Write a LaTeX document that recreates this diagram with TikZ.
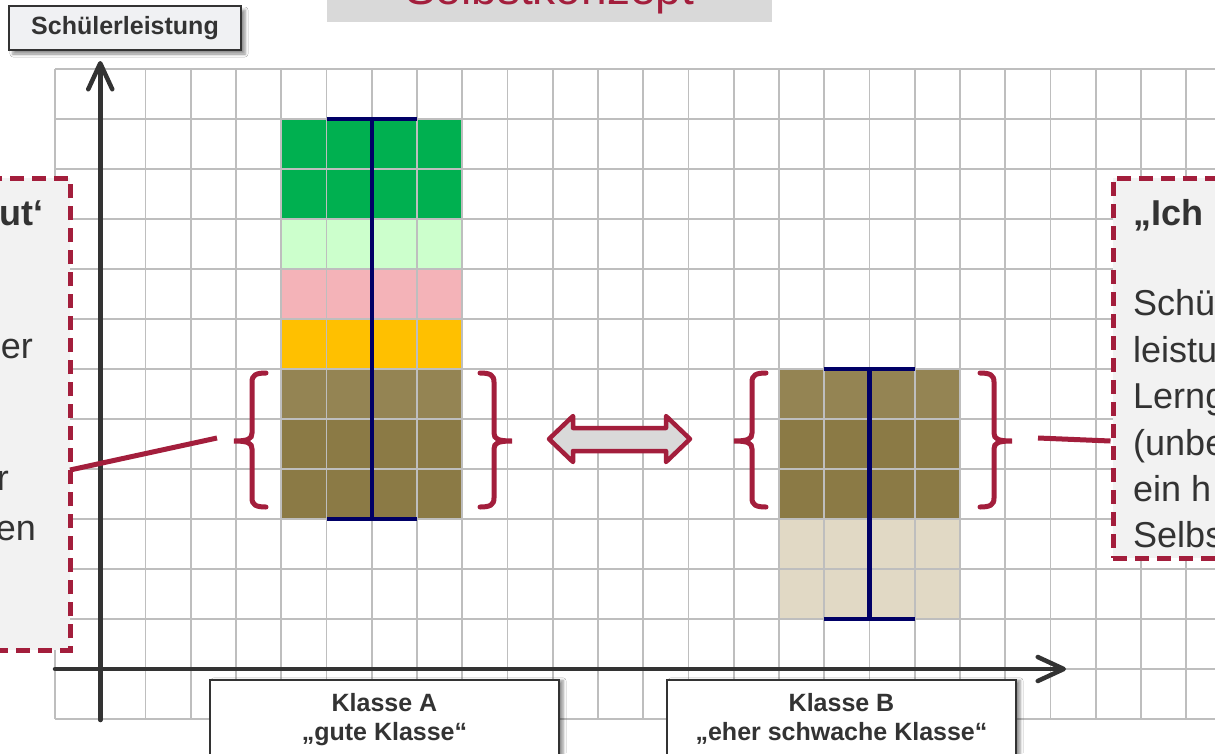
\documentclass[tikz,border=0pt]{standalone}
\usepackage{fontspec}
\setmainfont{Liberation Sans}
\usetikzlibrary{arrows.meta,shadows.blur}

\definecolor{gridc}{HTML}{BEBEBE}
\definecolor{axisc}{HTML}{333333}
\definecolor{txt}{HTML}{333333}
\definecolor{wine}{HTML}{A31E3C}
\definecolor{navy}{HTML}{000066}
\definecolor{gdark}{HTML}{00B050}
\definecolor{glight}{HTML}{CCFFCC}
\definecolor{pinkc}{HTML}{F4B3B8}
\definecolor{ambr}{HTML}{FFC000}
\definecolor{olivel}{HTML}{948453}
\definecolor{olived}{HTML}{8B7A45}
\definecolor{beige}{HTML}{E1D9C5}
\definecolor{panel}{HTML}{F2F2F2}
\definecolor{labelbg}{HTML}{F0F1F3}
\definecolor{titlebg}{HTML}{D9D9D9}

\tikzset{
  gridline/.style={draw=gridc, line width=1.6pt},
  navyl/.style={draw=navy, line width=4.2pt},
  axisl/.style={draw=axisc, line width=4.5pt, line cap=round,
    -{Straight Barb[length=26pt,width=24pt,line cap=round,line join=round]}},
  bracel/.style={draw=wine, line width=5pt, line cap=round},
  conn/.style={draw=wine, line width=5pt},
  dashbox/.style={draw=wine, line width=5pt, fill=panel,
    dash pattern=on 14pt off 8pt, inner sep=0pt},
  bodytxt/.style={inner sep=0pt, text=txt, font=\fontsize{36}{44}\selectfont},
  headtxt/.style={bodytxt, font=\bfseries\fontsize{36}{44}\selectfont},
  classbox/.style={draw=axisc, line width=1.5pt, fill=white, inner sep=0pt,
    blur shadow={shadow xshift=4pt, shadow yshift=-1pt, shadow blur radius=3pt, shadow opacity=45}},
  classtxt/.style={inner sep=0pt, anchor=base, text=txt, font=\bfseries\fontsize{25}{30}\selectfont},
  brace/.pic={
    \draw[bracel] (14,0) .. controls (4,0) and (0,2) .. (0,9) -- (0,60)
      .. controls (0,66) and (-4,68) .. (-18,68)
      .. controls (-4,68) and (0,70) .. (0,76) -- (0,125)
      .. controls (0,132) and (4,134) .. (14,134);
    \coordinate (-tip) at (-18,68);
  }
}

\begin{document}
\begin{tikzpicture}[x=1pt,y=-1pt]
\useasboundingbox (0,0) rectangle (1215,753);
\fill[white] (0,0) rectangle (1215,753);

% bars of the two classes
\foreach \yy/\cc in {119/gdark,169/gdark,219/glight,269/pinkc,319/ambr,369/olivel,419/olived,469/olived}
  \fill[\cc] (281.25,\yy) rectangle (462.25,\yy+50);
\foreach \yy/\cc in {369/olivel,419/olived,469/olived,519/beige,569/beige}
  \fill[\cc] (779,\yy) rectangle (960,\yy+50);

% squared paper
\foreach \k in {0,...,25}
  \draw[gridline] (55+\k*45.25,69) -- (55+\k*45.25,719);
\foreach \k in {0,...,13}
  \draw[gridline] (55,69+\k*50) -- (1215,69+\k*50);

% ranges
\draw[navyl] (371.75,119) -- (371.75,519);
\draw[navyl] (326.5,119) -- (417,119);
\draw[navyl] (326.5,519) -- (417,519);
\draw[navyl] (869.5,369) -- (869.5,619);
\draw[navyl] (824.25,369) -- (914.75,369);
\draw[navyl] (824.25,619) -- (914.75,619);

% axes
\draw[axisl] (100.25,720) -- (100.25,61);
\draw[axisl] (55,669) -- (1066,669);

% braces around the middle range
\pic (bAL) at (252,373) {brace};
\pic[xscale=-1] (bAR) at (494,373) {brace};
\pic (bBL) at (752,373) {brace};
\pic[xscale=-1] (bBR) at (994,373) {brace};

% comparison arrow
\draw[wine, line width=4.5pt, fill=titlebg, line join=round]
  (549,439) -- (573,416) -- (573,428) -- (666,428) -- (666,416) -- (690,439)
  -- (666,462) -- (666,451) -- (573,451) -- (573,462) -- cycle;

% title
\node[fill=titlebg, minimum width=445pt, minimum height=60pt, inner sep=0pt, anchor=south] (title) at (549.5,22) {};
\node[inner sep=0pt, anchor=base, text=wine, font=\fontsize{46}{50}\selectfont] (titletext) at (549.5,4) {Selbstkonzept};

% axis label
\node[draw=axisc, line width=1.5pt, fill=labelbg, minimum width=232pt, minimum height=44pt,
  text height=18pt, text depth=5pt, inner sep=0pt, text=txt,
  font=\bfseries\fontsize{25}{30}\selectfont,
  blur shadow={shadow xshift=4pt, shadow yshift=-4pt, shadow blur radius=3pt, shadow opacity=45}]
  (ylabel) at (125,28) {Schülerleistung};

% side panels
\node[dashbox, minimum width=120pt, minimum height=472pt] (lbox) at (10,414) {};
\node[headtxt, anchor=base east] (l1) at (44,225) {ut‘};
\node[bodytxt, anchor=base east] (l2) at (33,358) {er};
\node[bodytxt, anchor=base east] (l3) at (9,490) {r};
\node[bodytxt, anchor=base east] (l4) at (36,540) {en};

\node[dashbox, minimum width=160pt, minimum height=380pt] (rbox) at (1193,368) {};
\node[headtxt, anchor=base west] (r1) at (1133,225) {„Ich};
\node[bodytxt, anchor=base west] (r2) at (1133,315) {Schü};
\node[bodytxt, anchor=base west] (r3) at (1133,362) {leistu};
\node[bodytxt, anchor=base west] (r4) at (1133,408) {Lerng};
\node[bodytxt, anchor=base west] (r5) at (1133,455) {(unbe};
\node[bodytxt, anchor=base west] (r6) at (1133,501) {ein h};
\node[bodytxt, anchor=base west] (r7) at (1133,547) {Selbs};

% connectors from the panels to the braces
\coordinate (cl1) at (70,470);
\coordinate (cl2) at (217,438);
\draw[conn] (cl1) -- (cl2);
\coordinate (cr1) at (1038,438);
\draw[conn] (cr1) -- (rbox.west |- 0,441);

% class labels
\node[classbox, minimum width=349pt, minimum height=100pt, anchor=north] (kA) at (384.5,679) {};
\node[classtxt] (kA1) at (384.5,711) {Klasse A};
\node[classtxt] (kA2) at (384.5,740) {„gute Klasse“};
\node[classbox, minimum width=349pt, minimum height=100pt, anchor=north] (kB) at (841.5,679) {};
\node[classtxt] (kB1) at (841.5,711) {Klasse B};
\node[classtxt] (kB2) at (841.5,740) {„eher schwache Klasse“};
\end{tikzpicture}
\end{document}
